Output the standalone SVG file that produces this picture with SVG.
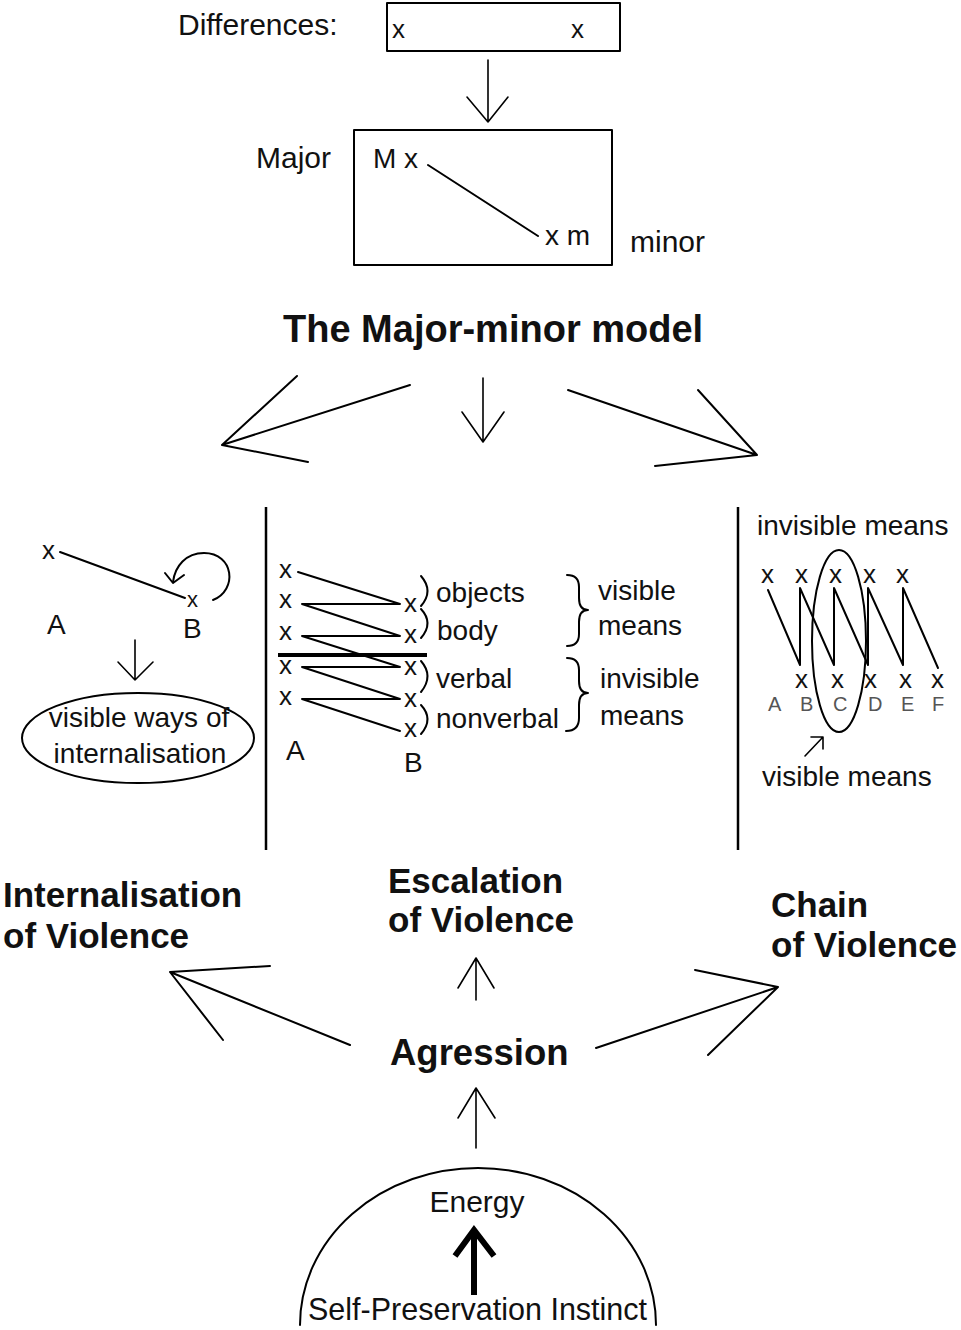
<svg xmlns="http://www.w3.org/2000/svg" width="961" height="1330" viewBox="0 0 961 1330">
<style>
.t{font-family:"Liberation Sans",Arial,sans-serif;fill:#111}
.r30{font-size:30px}
.r28{font-size:28px}
.x{font-size:26px}
.b{font-weight:bold;font-size:35px}
.ln{stroke:#000;stroke-width:2;fill:none;stroke-linecap:round;stroke-linejoin:round}
.th{stroke:#000;stroke-width:1.6;fill:none;stroke-linecap:round;stroke-linejoin:round}
.lt{font-family:"Liberation Sans",Arial,sans-serif;font-size:20px;fill:#555}
</style>
<rect width="961" height="1330" fill="#fff"/>

<g id="differences">
<text class="t r30" x="178" y="35">Differences:</text>
<rect x="387" y="3" width="233" height="48" class="ln" stroke-width="2.5"/>
<text class="t x" x="392" y="38">x</text>
<text class="t x" x="571" y="38">x</text>
</g>

<g id="major-minor">
<text class="t r30" x="256" y="168">Major</text>
<rect x="354" y="130" width="258" height="135" class="ln" stroke-width="2.5"/>
<text class="t r28" x="373" y="168">M x</text>
<line x1="428" y1="165" x2="538" y2="236" class="ln"/>
<text class="t r28" x="545" y="245">x m</text>
<text class="t r30" x="630" y="252">minor</text>
</g>

<g id="title">
<text class="t" x="283" y="342" font-weight="bold" font-size="38">The Major-minor model</text>
</g>

<g id="left-panel">
<text class="t x" x="42" y="559">x</text>
<line x1="60" y1="552" x2="185" y2="598" class="ln"/>
<text class="t" x="187" y="607" font-size="22">x</text>
<path d="M 213 600 C 238 590 234 553 204 553 C 186 553 175 566 173 582" class="ln"/>
<path d="M 165 573 L 173 583 L 184 575" class="ln"/>
<text class="t r28" x="47" y="634">A</text>
<text class="t r28" x="183" y="638">B</text>
<path d="M 135 640 L 135 680 M 118 662 L 135 680 L 153 662" class="th"/>
<ellipse cx="138" cy="738" rx="116" ry="45" class="ln"/>
<text class="t r28" x="139" y="727" text-anchor="middle">visible ways of</text>
<text class="t r28" x="140" y="763" text-anchor="middle">internalisation</text>
</g>

<g id="middle-panel">
<text class="t x" x="279" y="578">x</text>
<text class="t x" x="279" y="608">x</text>
<text class="t x" x="279" y="640">x</text>
<text class="t x" x="279" y="674">x</text>
<text class="t x" x="279" y="705">x</text>
<text class="t x" x="404" y="612">x</text>
<text class="t x" x="404" y="643">x</text>
<text class="t x" x="404" y="675">x</text>
<text class="t x" x="404" y="707">x</text>
<text class="t x" x="404" y="737">x</text>
<path d="M 298 572 L 400 604 L 302 604 L 400 636 L 302 636 L 400 667 L 302 667 L 400 699 L 302 699 L 400 731" class="ln"/>
<line x1="278" y1="655" x2="427" y2="655" stroke="#000" stroke-width="4"/>
<path d="M 421 576 Q 434 591 421 606 M 421 609 Q 434 623 421 638 M 421 661 Q 434 676 421 692 M 421 705 Q 434 719 421 734" class="ln"/>
<text class="t r28" x="436" y="602">objects</text>
<text class="t r28" x="437" y="640">body</text>
<text class="t r28" x="436" y="688">verbal</text>
<text class="t r28" x="436" y="728">nonverbal</text>
<path d="M 567 575 Q 579 575 579 587 L 579 598 Q 579 610 588 610 Q 579 610 579 622 L 579 634 Q 579 646 567 646" class="ln"/>
<path d="M 567 658 Q 579 658 579 670 L 579 681 Q 579 693 588 693 Q 579 693 579 705 L 579 718 Q 579 731 566 731" class="ln"/>
<text class="t r28" x="598" y="600">visible</text>
<text class="t r28" x="598" y="635">means</text>
<text class="t r28" x="600" y="688">invisible</text>
<text class="t r28" x="600" y="725">means</text>
<text class="t r28" x="286" y="760">A</text>
<text class="t r28" x="404" y="772">B</text>
</g>

<g id="right-panel">
<text class="t r28" x="757" y="535">invisible means</text>
<text class="t x" x="761" y="583">x</text>
<text class="t x" x="795" y="583">x</text>
<text class="t x" x="829" y="583">x</text>
<text class="t x" x="863" y="583">x</text>
<text class="t x" x="896" y="583">x</text>
<text class="t x" x="795" y="688">x</text>
<text class="t x" x="831" y="688">x</text>
<text class="t x" x="864" y="688">x</text>
<text class="t x" x="899" y="688">x</text>
<text class="t x" x="931" y="688">x</text>
<path d="M 768 590 L 800 665 L 800 588 L 834 665 L 834 588 L 868 665 L 868 588 L 903 665 L 903 588 L 938 668" class="ln"/>
<ellipse cx="839" cy="641" rx="27" ry="91" class="ln"/>
<text class="lt" x="768" y="711">A</text>
<text class="lt" x="800" y="711">B</text>
<text class="lt" x="833" y="711">C</text>
<text class="lt" x="868" y="711">D</text>
<text class="lt" x="901" y="711">E</text>
<text class="lt" x="932" y="711">F</text>
<path d="M 805 756 L 823 737 M 811 737 L 823 737 L 823 749" class="th"/>
<text class="t r28" x="762" y="786">visible means</text>
</g>

<g id="labels">
<text class="t b" x="3" y="907">Internalisation</text>
<text class="t b" x="3" y="948">of Violence</text>
<text class="t b" x="388" y="893">Escalation</text>
<text class="t b" x="388" y="932">of Violence</text>
<text class="t b" x="771" y="917">Chain</text>
<text class="t b" x="771" y="957">of Violence</text>
</g>

<g id="agression">
<text class="t" x="390" y="1065" font-weight="bold" font-size="36.5">Agression</text>
</g>

<g id="energy">
<path d="M 300 1325 A 178 157 0 0 1 656 1325" class="ln"/>
<text class="t r30" x="477" y="1212" text-anchor="middle">Energy</text>
<path d="M 474 1295 L 474 1232 M 455 1256 L 474 1230 L 494 1256" stroke="#000" stroke-width="6" fill="none" stroke-linejoin="miter"/>
<text class="t" x="308" y="1320" font-size="30.5">Self-Preservation Instinct</text>
</g>

<g id="connectors">
<line x1="266" y1="507" x2="266" y2="850" stroke="#000" stroke-width="2.5"/>
<line x1="738" y1="507" x2="738" y2="850" stroke="#000" stroke-width="2.5"/>
<path d="M 488 60 L 488 122 M 467 97 L 488 122 L 508 97" class="th"/>
<path d="M 410 385 L 222 445 M 297 376 L 222 445 L 308 462" class="ln"/>
<path d="M 483 378 L 483 442 M 462 412 L 483 442 L 504 412" class="th"/>
<path d="M 568 390 L 757 455 M 698 390 L 757 455 L 655 466" class="ln"/>
<path d="M 350 1045 L 170 972 M 270 966 L 170 972 L 223 1040" class="ln"/>
<path d="M 476 1000 L 476 958 M 458 988 L 476 958 L 494 988" class="th"/>
<path d="M 596 1048 L 778 987 M 695 970 L 778 987 L 708 1055" class="ln"/>
<path d="M 476 1148 L 476 1088 M 458 1118 L 476 1088 L 495 1118" class="th"/>
</g>
</svg>
